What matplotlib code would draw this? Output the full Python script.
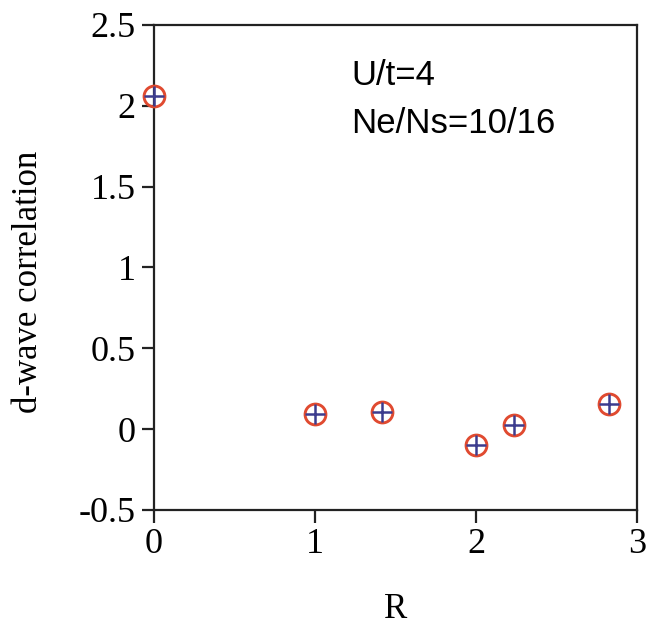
import numpy as np
import matplotlib.pyplot as plt

# расстояния R и d-волновая корреляция
R = [0.0, 1.0, np.sqrt(2), 2.0, np.sqrt(5), np.sqrt(8)]
corr = [2.06, 0.093, 0.105, -0.10, 0.025, 0.155]

x_ticks = [0, 1, 2, 3]
y_ticks = [-0.5, 0, 0.5, 1, 1.5, 2, 2.5]
y_tick_labels = ['-0.5', '0', '0.5', '1', '1.5', '2', '2.5']

red = '#e04a30'
blue = '#3c3c8e'

fig = plt.figure(figsize=(6.49, 6.28), dpi=100)
ax = fig.add_axes([0.2373, 0.1879, 0.7442, 0.7723])

ax.plot(R, corr, linestyle='none', marker='o', markersize=15,
        markerfacecolor='none', markeredgecolor=red, markeredgewidth=2.1,
        clip_on=False, zorder=3)
ax.plot(R, corr, linestyle='none', marker='+', markersize=15,
        markeredgecolor=blue, markeredgewidth=1.8, clip_on=False, zorder=4)

ax.set_xlim(0, 3)
ax.set_ylim(-0.5, 2.5)
ax.set_xticks(x_ticks)
ax.set_yticks(y_ticks)
ax.set_xticklabels([str(t) for t in x_ticks], family='Liberation Serif', fontsize=26)
ax.set_yticklabels(y_tick_labels, family='Liberation Serif', fontsize=26)
ax.tick_params(direction='out', length=9, width=1.6, color='#222222', pad=4)

for s in ax.spines.values():
    s.set_linewidth(1.6)
    s.set_color('#222222')

ax.set_xlabel('R', family='Liberation Serif', fontsize=25, labelpad=23)
ax.set_ylabel('d-wave correlation', family='Liberation Serif', fontsize=25)
ax.yaxis.set_label_coords(-0.226, 0.47)

ax.text(0.408, 0.896, 'U/t=4', transform=ax.transAxes, family='Liberation Sans',
        fontsize=25, va='center', ha='left')
ax.text(0.408, 0.796, 'Ne/Ns=10/16', transform=ax.transAxes, family='Liberation Sans',
        fontsize=25, va='center', ha='left')

fig.savefig('out.png', dpi=100)
